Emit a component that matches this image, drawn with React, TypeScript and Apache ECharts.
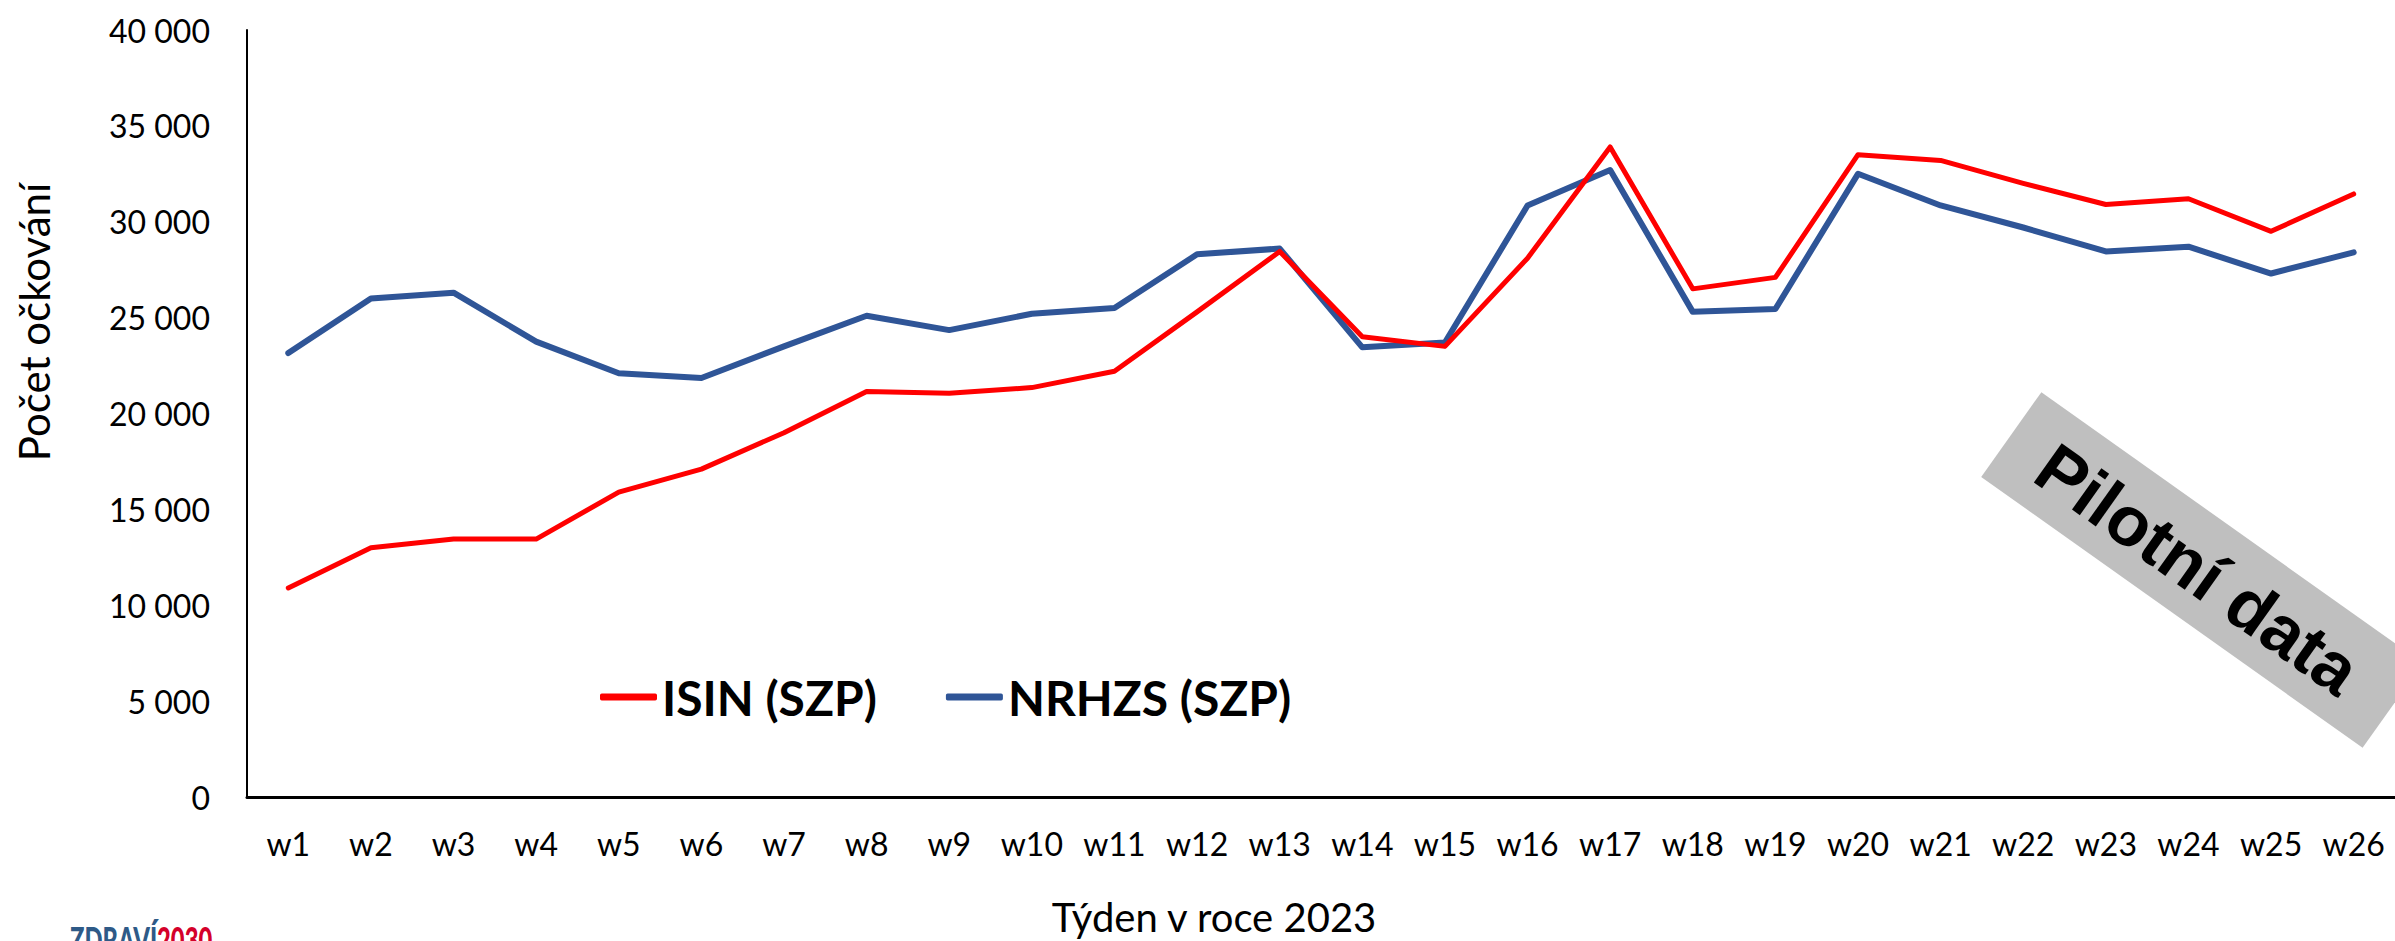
import React, { useEffect, useRef } from "react";
import * as echarts from "echarts";

const weeks = [
  "w1", "w2", "w3", "w4", "w5", "w6", "w7", "w8", "w9", "w10", "w11", "w12", "w13",
  "w14", "w15", "w16", "w17", "w18", "w19", "w20", "w21", "w22", "w23", "w24", "w25", "w26",
];

const isinSzp = [
  10900, 13000, 13450, 13450, 15900, 17100, 19000, 21150, 21050, 21350, 22200, 25300, 28450,
  24000, 23500, 28100, 33900, 26500, 27100, 33500, 33200, 32000, 30900, 31200, 29500, 31450,
];

const nrhzsSzp = [
  23150, 26000, 26300, 23750, 22100, 21850, 23500, 25100, 24350, 25200, 25500, 28300, 28600,
  23450, 23700, 30850, 32700, 25300, 25450, 32500, 30850, 29700, 28450, 28700, 27300, 28400,
];

const yTicks = { min: 0, max: 40000, interval: 5000 };

const formatThousands = (v: number) =>
  v === 0 ? "0" : String(v).replace(/\B(?=(\d{3})+(?!\d))/g, " ");

export default function App() {
  const ref = useRef<HTMLDivElement>(null);

  useEffect(() => {
    if (!ref.current) return;
    const chart = echarts.init(ref.current, undefined, { renderer: "svg" });
    const font = "Lato, 'Open Sans', sans-serif";
    chart.setOption({
      animation: false,
      backgroundColor: "#ffffff",
      grid: { left: 247, right: 0, top: 30, bottom: 144, containLabel: false },
      legend: {
        left: 595,
        top: 668,
        itemWidth: 57,
        itemHeight: 7,
        itemGap: 69,
        icon: "roundRect",
        textStyle: {
          fontFamily: font,
          fontWeight: "bold",
          fontSize: 48,
          color: "#000000",
        },
        data: ["ISIN (SZP)", "NRHZS (SZP)"],
      },
      xAxis: {
        type: "category",
        data: weeks,
        boundaryGap: true,
        axisLine: { show: true, lineStyle: { color: "#000000", width: 3 } },
        axisTick: { show: false },
        axisLabel: {
          interval: 0,
          margin: 30,
          fontFamily: font,
          fontSize: 32,
          color: "#000000",
        },
        splitLine: { show: false },
      },
      yAxis: {
        type: "value",
        min: yTicks.min,
        max: yTicks.max,
        interval: yTicks.interval,
        axisLine: { show: true, lineStyle: { color: "#000000", width: 2 } },
        axisTick: { show: false },
        splitLine: { show: false },
        axisLabel: {
          margin: 37,
          fontFamily: font,
          fontSize: 32,
          color: "#000000",
          formatter: (v: number) => formatThousands(v),
        },
      },
      series: [
        {
          name: "ISIN (SZP)",
          type: "line",
          data: isinSzp,
          symbol: "none",
          lineStyle: { color: "#FF0000", width: 5, cap: "round", join: "round" },
          itemStyle: { color: "#FF0000" },
          z: 3,
        },
        {
          name: "NRHZS (SZP)",
          type: "line",
          data: nrhzsSzp,
          symbol: "none",
          lineStyle: { color: "#2F5597", width: 6, cap: "round", join: "round" },
          itemStyle: { color: "#2F5597" },
          z: 2,
        },
      ],
      graphic: [
        {
          type: "text",
          x: 34,
          y: 322,
          rotation: Math.PI / 2,
          style: {
            text: "Počet očkování",
            fontFamily: font,
            fontSize: 42,
            fill: "#000000",
            align: "center",
            verticalAlign: "middle",
          },
        },
        {
          type: "text",
          x: 1214,
          y: 917,
          style: {
            text: "Týden v roce 2023",
            fontFamily: font,
            fontSize: 40,
            fill: "#000000",
            align: "center",
            verticalAlign: "middle",
          },
        },
        {
          type: "group",
          x: 2202,
          y: 570,
          rotation: -0.618,
          children: [
            {
              type: "rect",
              shape: { x: -234, y: -52, width: 468, height: 104 },
              style: { fill: "#BFBFBF" },
            },
            {
              type: "text",
              x: -4,
              y: 2,
              style: {
                text: "Pilotní data",
                fontFamily: "'Liberation Sans', Arial, sans-serif",
                fontWeight: "bold",
                fontSize: 70,
                fill: "#000000",
                align: "center",
                verticalAlign: "middle",
              },
            },
          ],
        },
        {
          type: "text",
          x: 70,
          y: 921,
          scaleX: 0.66,
          style: {
            rich: {
              a: { fill: "#2E5A87", fontFamily: font, fontWeight: 900, fontSize: 36 },
              b: { fill: "#D4002A", fontFamily: font, fontWeight: 900, fontSize: 36 },
            },
            text: "{a|ZDRAVÍ}{b|2030}",
            verticalAlign: "top",
          },
        },
      ],
    });
    return () => chart.dispose();
  }, []);

  return (
    <div
      ref={ref}
      style={{ position: "absolute", left: 0, top: 0, width: 2395, height: 941 }}
    />
  );
}
